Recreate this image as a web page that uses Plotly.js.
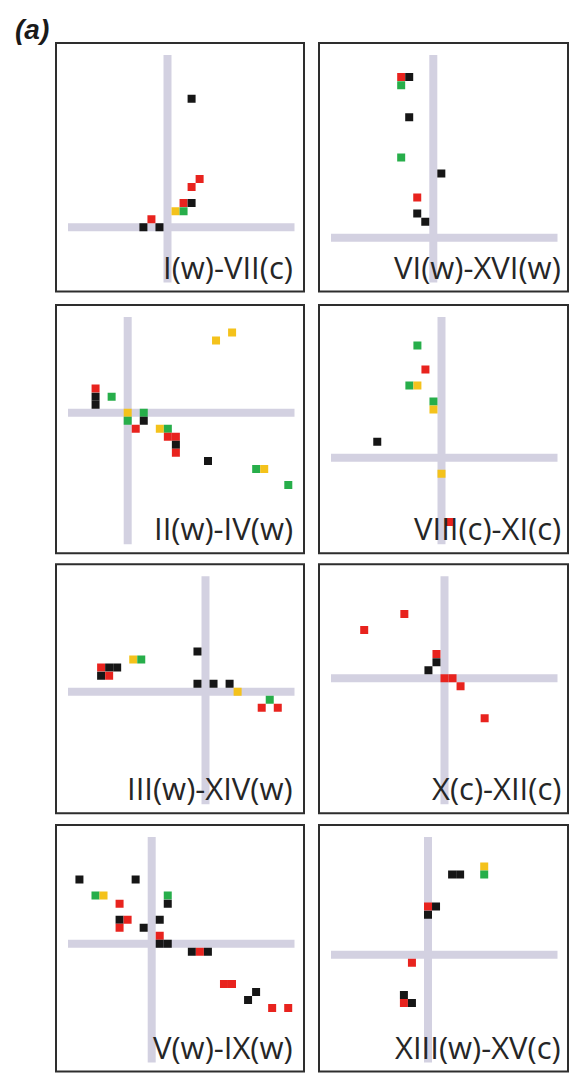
<!DOCTYPE html>
<html>
<head>
<meta charset="utf-8">
<script src="https://cdn.plot.ly/plotly-3.0.1.min.js"></script>
<style>html,body{margin:0;padding:0;background:#fff;}#chart{width:573px;height:1073px;}</style>
</head>
<body>
<div id="chart"></div>
<script>
// ---- data: grid offsets from the crosshair origin, colour key per point ----
const panelLabels = ['I(w)-VII(c)', 'VI(w)-XVI(w)', 'II(w)-IV(w)', 'VIII(c)-XI(c)',
                     'III(w)-XIV(w)', 'X(c)-XII(c)', 'V(w)-IX(w)', 'XIII(w)-XV(c)'];

const p1_x = [3, 4, 3, 2, 3, 1, 2, -2, -3, -1];
const p1_y = [16, 6, 5, 3, 3, 2, 2, 1, 0, 0];
const p1_c = ['k', 'r', 'r', 'r', 'k', 'y', 'g', 'r', 'k', 'k'];

const p2_x = [-4, -3, -4, -3, -4, 1, -2, -2, -1];
const p2_y = [20, 20, 19, 15, 10, 8, 5, 3, 2];
const p2_c = ['r', 'k', 'g', 'k', 'g', 'k', 'r', 'k', 'k'];

const p3_x = [11, 13, -4, -4, -4, -2, 0, 2, 0, 2, 1, 4, 5, 5, 6, 6, 6, 10, 16, 17, 20];
const p3_y = [9, 10, 3, 2, 1, 2, 0, 0, -1, -1, -2, -2, -2, -3, -3, -4, -5, -6, -7, -7, -9];
const p3_c = ['y', 'y', 'r', 'k', 'k', 'g', 'y', 'g', 'g', 'k', 'r', 'y', 'g', 'r', 'r', 'k', 'r', 'k', 'g', 'y', 'g'];

const p4_x = [-3, -2, -4, -3, -1, -1, -8, 0, 1];
const p4_y = [14, 11, 9, 9, 7, 6, 2, -2, -8];
const p4_c = ['g', 'r', 'g', 'y', 'g', 'y', 'k', 'y', 'r'];

const p5_x = [-13, -12, -11, -13, -12, -9, -8, -1, -1, 1, 3, 4, 8, 7, 9];
const p5_y = [3, 3, 3, 2, 2, 4, 4, 5, 1, 1, 1, 0, -1, -2, -2];
const p5_c = ['r', 'k', 'k', 'k', 'r', 'y', 'g', 'k', 'k', 'k', 'k', 'y', 'g', 'r', 'r'];

const p6_x = [-10, -5, -1, -1, -2, 0, 1, 2, 5];
const p6_y = [6, 8, 3, 2, 1, 0, 0, -1, -5];
const p6_c = ['r', 'r', 'r', 'k', 'k', 'r', 'r', 'r', 'r'];

const p7_x = [-9, -2, -7, -6, 2, 2, -4, -4, -3, -4, -1, 1, 1, 1, 2, 5, 6, 7, 9, 10, 13, 12, 15, 17];
const p7_y = [8, 8, 6, 6, 6, 5, 5, 3, 3, 2, 2, 3, 1, 0, 0, -1, -1, -1, -5, -5, -6, -7, -8, -8];
const p7_c = ['k', 'k', 'g', 'y', 'g', 'k', 'r', 'k', 'r', 'r', 'k', 'k', 'r', 'k', 'k', 'k', 'r', 'k', 'r', 'r', 'k', 'k', 'r', 'r'];

const p8_x = [7, 7, 3, 4, 0, 1, 0, -2, -3, -3, -2];
const p8_y = [11, 10, 10, 10, 6, 6, 5, -1, -5, -6, -6];
const p8_c = ['y', 'g', 'k', 'k', 'r', 'k', 'k', 'r', 'k', 'r', 'k'];

const allX = [p1_x, p2_x, p3_x, p4_x, p5_x, p6_x, p7_x, p8_x];
const allY = [p1_y, p2_y, p3_y, p4_y, p5_y, p6_y, p7_y, p8_y];
const allC = [p1_c, p2_c, p3_c, p4_c, p5_c, p6_c, p7_c, p8_c];

// ---- style / layout (pixels) ----
const COLORS = {k: '#161616', r: '#e8231e', g: '#27ae4a', y: '#f4c21b'};
const W = 573, H = 1073, PITCH = 8.03;
// panel boxes [left, right, top, bottom] and crosshair origin [cx, cy]
const boxes = [
  [56, 304, 43, 291.5], [319, 568, 43, 291.5],
  [56, 304, 305, 553.3], [319, 568, 305, 553.3],
  [56, 304, 564.3, 813.3], [319, 568, 564.3, 813.3],
  [56, 304, 825, 1071.5], [319, 568, 825, 1071.5]
];
const origins = [
  [167.5, 227.2], [433.3, 237.7],
  [127.7, 412.7], [441.5, 457.8],
  [205.5, 691.7], [444.5, 678.2],
  [151.7, 943.8], [428, 954.8]
];

const traces = [];
const layout = {
  width: W, height: H,
  margin: {l: 0, r: 0, t: 0, b: 0},
  paper_bgcolor: '#fff', plot_bgcolor: '#fff',
  showlegend: false,
  shapes: [], annotations: []
};

for (let i = 0; i < 8; i++) {
  const n = i + 1;
  const xa = 'x' + (n === 1 ? '' : n), ya = 'y' + (n === 1 ? '' : n);
  const xk = 'xaxis' + (n === 1 ? '' : n), yk = 'yaxis' + (n === 1 ? '' : n);
  const [l, r, t, b] = boxes[i];
  const [cx, cy] = origins[i];
  const ax = {
    domain: [l / W, r / W], range: [(l - cx) / PITCH, (r - cx) / PITCH],
    showgrid: false, zeroline: false, showticklabels: false, ticks: '', showline: false,
    fixedrange: true, anchor: ya
  };
  const ay = {
    domain: [1 - b / H, 1 - t / H], range: [(cy - b) / PITCH, (cy - t) / PITCH],
    showgrid: false, zeroline: false, showticklabels: false, ticks: '', showline: false,
    fixedrange: true, anchor: xa
  };
  layout[xk] = ax; layout[yk] = ay;

  const right = i % 2 === 1;
  const width = r - l, height = b - t;
  // crosshair
  layout.shapes.push({type: 'line', layer: 'below', xref: xa + ' domain', yref: ya,
    x0: 12 / width, x1: (width - (right ? 10.5 : 9.5)) / width, y0: 0, y1: 0,
    line: {color: '#d3d1e1', width: 8}});
  layout.shapes.push({type: 'line', layer: 'below', xref: xa, yref: ya + ' domain',
    x0: 0, x1: 0, y0: 9 / height, y1: (height - 12) / height,
    line: {color: '#d3d1e1', width: 8}});
  // frame
  layout.shapes.push({type: 'rect', layer: 'above', xref: xa + ' domain', yref: ya + ' domain',
    x0: 0, x1: 1, y0: 0, y1: 1, line: {color: '#2e2e2e', width: 2}});

  traces.push({
    type: 'scatter', mode: 'markers', xaxis: xa, yaxis: ya,
    x: allX[i], y: allY[i], hoverinfo: 'skip',
    marker: {symbol: 'square', size: 8, color: allC[i].map(c => COLORS[c]), line: {width: 0}}
  });

  layout.annotations.push({
    xref: xa + ' domain', yref: ya + ' domain',
    x: (width - (right ? 5 : 9)) / width, y: 0, xanchor: 'right', yanchor: 'bottom',
    yshift: 2, showarrow: false, text: panelLabels[i],
    font: {family: 'Open Sans', size: 31, color: '#262626'}
  });
}

layout.annotations.push({
  xref: 'paper', yref: 'paper', x: 13 / W, y: 1 - 12 / H, xanchor: 'left', yanchor: 'top',
  showarrow: false, text: '<b><i>(a)</i></b>',
  font: {family: 'Liberation Sans', size: 28, color: '#1a1a1a'}
});

Plotly.newPlot('chart', traces, layout, {staticPlot: true, displayModeBar: false});
</script>
</body>
</html>
